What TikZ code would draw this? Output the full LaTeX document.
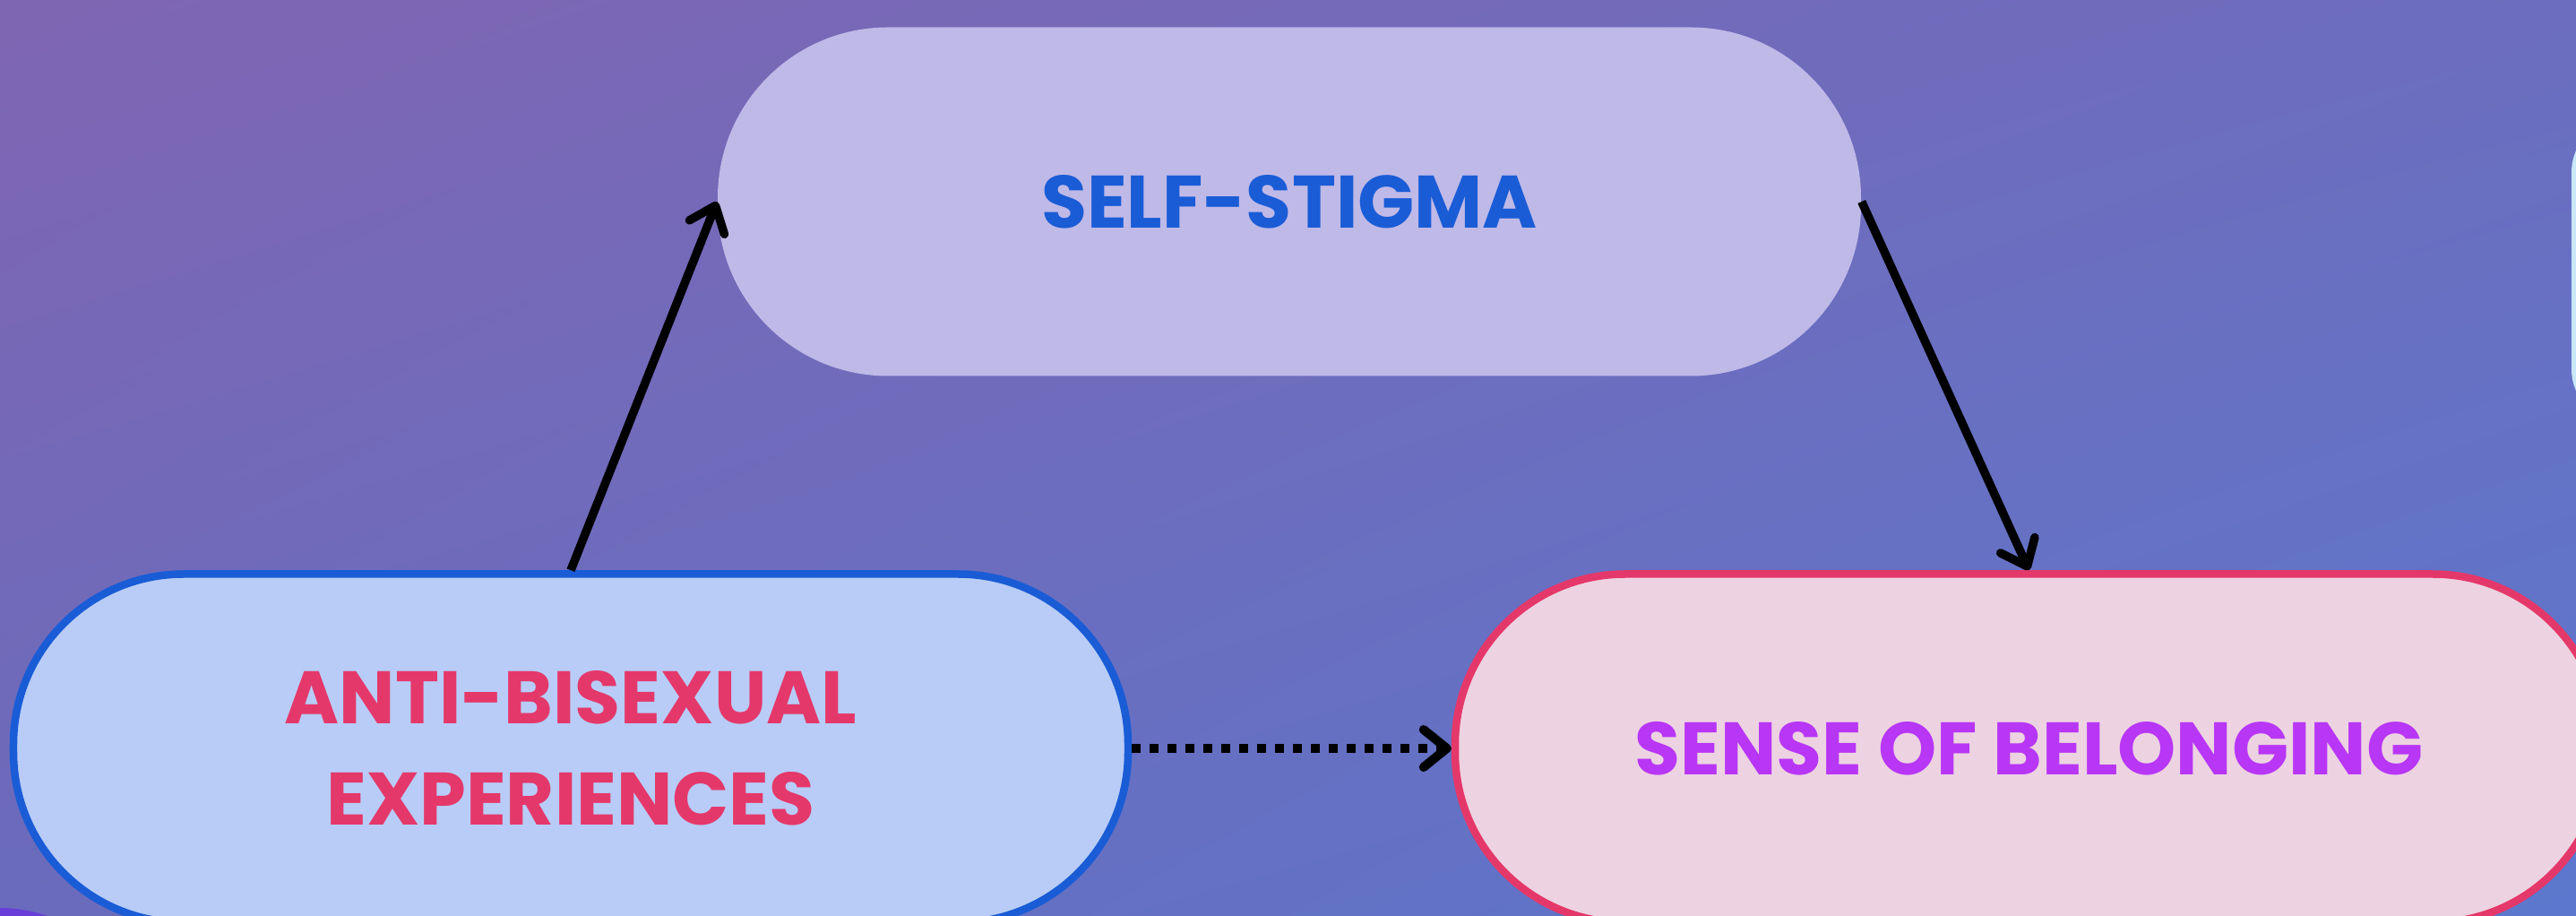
\documentclass[tikz,border=0pt]{standalone}
\usepackage{fontspec}
\newfontfamily\pillfont{Poppins}
\usetikzlibrary{arrows.meta,shadings}

\definecolor{bgtl}{HTML}{7F66B3}
\definecolor{bgtr}{HTML}{6C6DBE}
\definecolor{bgbl}{HTML}{6A6BBC}
\definecolor{bgbr}{HTML}{5B78CE}
\definecolor{stigmafill}{HTML}{BFB9E8}
\definecolor{stigmatext}{HTML}{1A5CD6}
\definecolor{abefill}{HTML}{B8CCF7}
\definecolor{abeline}{HTML}{1A5CD6}
\definecolor{abetext}{HTML}{E5386A}
\definecolor{sobfill}{HTML}{EDD3E1}
\definecolor{sobline}{HTML}{E5386A}
\definecolor{sobtext}{HTML}{B836F5}
\definecolor{edgecyan}{HTML}{C8E8FA}
\definecolor{edgeviolet}{HTML}{6A3FD9}

\begin{document}
\begin{tikzpicture}[
    pill/.style={rectangle, rounded corners=1.9cm, minimum height=3.89cm,
      align=center, inner sep=0pt,
      font=\pillfont\bfseries\fontsize{23.6}{32}\selectfont},
    link/.style={-{Straight Barb[length=0.26cm,width=0.42cm,line cap=round,line join=round]},
      line width=0.095cm, black},
  ]
  % Background
  \useasboundingbox (0,0) rectangle (28.75,10.22);
  \shade[upper left=bgtl, upper right=bgtr, lower left=bgbl, lower right=bgbr]
    (0,0) rectangle (28.75,10.22);

  % Shapes cut off by the edges
  \fill[edgecyan, rounded corners=0.6cm] (28.70,5.50) rectangle (31,8.90);
  \fill[edgeviolet] (0,-1.5) circle (1.59);

  % Mediator
  \node[pill, fill=stigmafill, text=stigmatext, minimum width=12.76cm]
    (stigma) at (14.39,7.97) {SELF-STIGMA};

  % Predictor
  \node[pill, draw=abeline, line width=0.085cm, fill=abefill, text=abetext,
    minimum width=12.44cm] (abe) at (6.37,1.87) {ANTI-BISEXUAL\\EXPERIENCES};

  % Outcome
  \node[pill, draw=sobline, line width=0.085cm, fill=sobfill, text=sobtext,
    minimum width=12.81cm] (sob) at (22.645,1.87) {SENSE OF BELONGING};

  % Paths
  \draw[link] (abe.north) -- (stigma.west);
  \draw[link] (stigma.east) -- (sob.north);

  % Direct path
  \draw[link, line width=0.1cm, dash pattern=on 0.1cm off 0.1cm] (abe.east) -- (sob.west);
\end{tikzpicture}
\end{document}
